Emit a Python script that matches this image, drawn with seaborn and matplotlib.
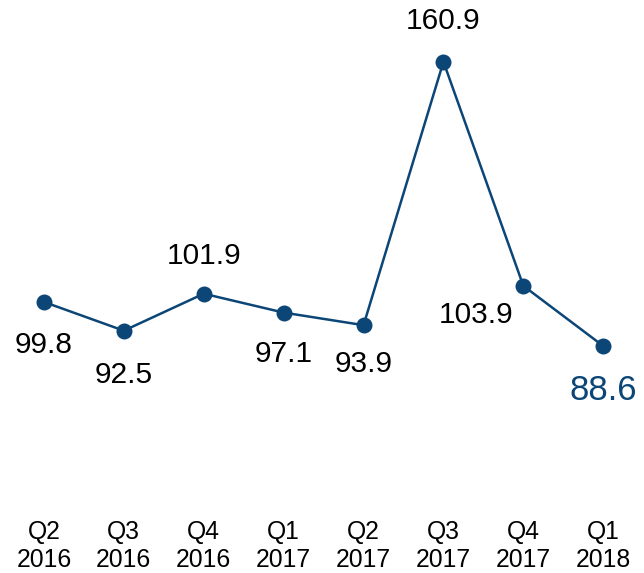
import matplotlib.pyplot as plt
import seaborn as sns
import pandas as pd

# dados do grafico
trimestres = ['Q2\n2016', 'Q3\n2016', 'Q4\n2016', 'Q1\n2017', 'Q2\n2017', 'Q3\n2017', 'Q4\n2017', 'Q1\n2018']
valores = [99.8, 92.5, 101.9, 97.1, 93.9, 160.9, 103.9, 88.6]
rotulos = ['99.8', '92.5', '101.9', '97.1', '93.9', '160.9', '103.9', '88.6']

cor = '#0b4677'
sns.set_theme(style='white')
plt.rcParams['font.family'] = ['Liberation Sans', 'DejaVu Sans']

df = pd.DataFrame({'x': range(len(valores)), 'valor': valores})

fig = plt.figure(figsize=(6.44, 5.73), dpi=100)
ax = fig.add_axes([0, 0.11, 1, 0.89])
sns.lineplot(data=df, x='x', y='valor', color=cor, linewidth=1.8,
             marker='o', markersize=11.5, markeredgewidth=0, ax=ax)

# posicao dos rotulos (deslocamento em pontos)
desloc = [(0, -31), (0, -32), (0, 27), (0, -30), (0, -28), (0, 29), (-34, -21), (0, -32)]
for i, v in enumerate(valores):
    ultimo = i == len(valores) - 1
    ax.annotate(rotulos[i], (i, v), xytext=desloc[i], textcoords='offset points',
                ha='center', va='center',
                fontsize=25 if ultimo else 21.5,
                color=cor if ultimo else 'black')

ax.set_xlim(-0.55, 7.51)
ax.set_ylim(46.9, 176.6)
ax.set_xticks(range(len(trimestres)))
ax.set_xticklabels(trimestres, fontsize=17.8, color='black', linespacing=1.25)
ax.set_yticks([])
ax.set_xlabel('')
ax.set_ylabel('')
ax.tick_params(axis='x', length=0, pad=7)
for s in ax.spines.values():
    s.set_visible(False)

fig.savefig('out.png', dpi=100)
